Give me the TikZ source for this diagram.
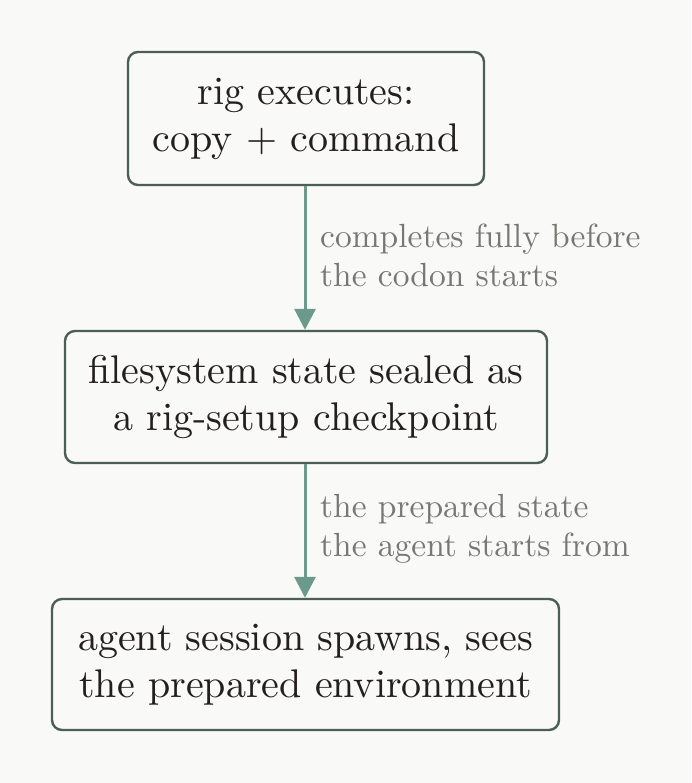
\documentclass[tikz,border=0pt]{standalone}
\usepackage{fontspec}
\setmainfont{lmroman10-regular}[Extension=.otf]
\usetikzlibrary{arrows.meta}
\definecolor{bgcol}{HTML}{F9F9F8}
\definecolor{boxline}{HTML}{4C5F56}
\definecolor{boxtext}{HTML}{231F1C}
\definecolor{arrowcol}{HTML}{6B9A8D}
\definecolor{labelcol}{HTML}{787872}
\tikzset{
  stepbox/.style={draw=boxline, line width=2.4pt, rounded corners=10pt, fill=bgcol,
    text=boxtext, align=center, inner sep=0pt,
    font=\fontsize{40}{47}\selectfont},
  flow/.style={draw=arrowcol, line width=3pt, -{Triangle[length=21pt,width=21pt]}},
  note/.style={text=labelcol, align=left, inner sep=0pt, anchor=north west,
    font=\fontsize{33.5}{39}\selectfont}
}
\begin{document}
\begin{tikzpicture}[x=1pt,y=1pt]
\useasboundingbox (0,0) rectangle (691,-783);
\fill[bgcol] (0,0) rectangle (691,-783);
\node[stepbox, minimum width=356pt, minimum height=133pt] (a) at (306,-118.5) {rig executes:\\copy + command};
\node[stepbox, minimum width=482pt, minimum height=132pt] (b) at (306,-397) {filesystem state sealed as\\a rig-setup checkpoint};
\node[stepbox, minimum width=507pt, minimum height=131pt] (c) at (305.5,-664.5) {agent session spawns, sees\\the prepared environment};
\draw[flow] (a.south -| 305,0) -- (b.north -| 305,0);
\draw[flow] (b.south -| 305,0) -- (c.north -| 305,0);
\node[note] (n1) at (320,-224) {completes fully before\\the codon starts};
\node[note] (n2) at (320,-494) {the prepared state\\the agent starts from};
\end{tikzpicture}
\end{document}
